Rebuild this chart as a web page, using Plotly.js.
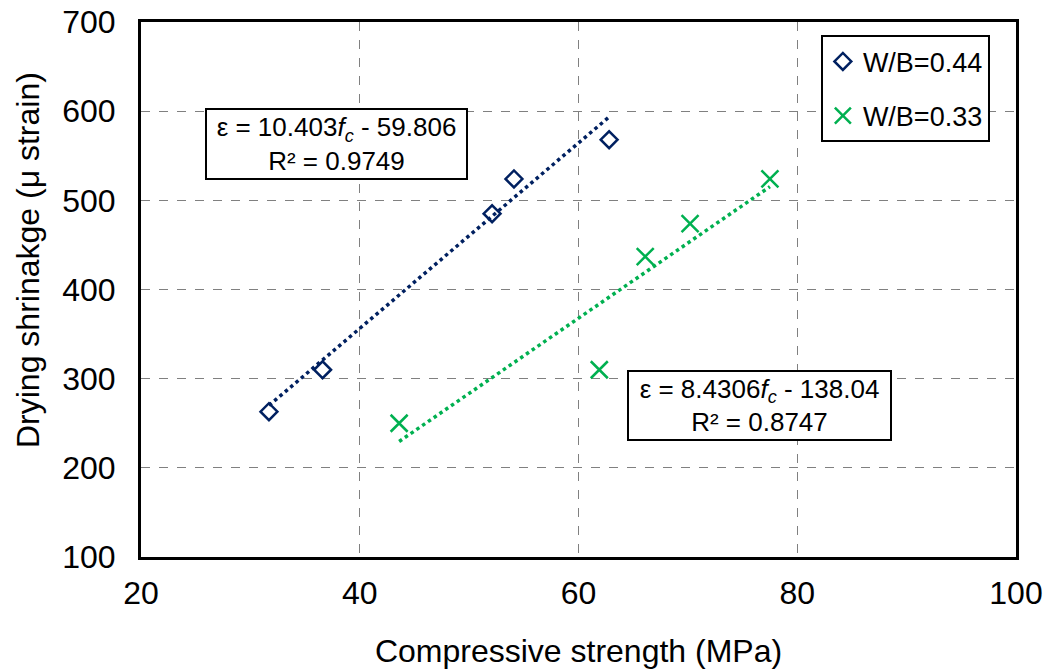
<!DOCTYPE html>
<html>
<head>
<meta charset="utf-8">
<script src="https://cdn.plot.ly/plotly-3.0.1.min.js"></script>
<style>html,body{margin:0;padding:0;background:#fff;}#chart{width:1049px;height:669px;}</style>
</head>
<body>
<div id="chart"></div>
<script>
var seriesNames = ["W/B=0.44", "W/B=0.33"];
var fc044 = [31.7, 36.6, 52.1, 54.1, 62.8];
var shr044 = [263, 310, 485, 524, 568];
var fc033 = [43.6, 61.9, 66.1, 70.2, 77.5];
var shr033 = [250, 310, 437, 474, 524];
var fit044 = [10.403, -59.806];
var fit033 = [8.4306, -138.04];
var eqText = ["ε = 10.403<i>f<sub>c</sub></i> - 59.806<br>R² = 0.9749",
              "ε = 8.4306<i>f<sub>c</sub></i> - 138.04<br>R² = 0.8747"];
var xTitle = "Compressive strength (MPa)";
var yTitle = "Drying shrinakge (μ strain)";
var xTicks = [20, 40, 60, 80, 100];
var yTicks = [100, 200, 300, 400, 500, 600, 700];

var navy = "#002060", green = "#00B050";
var fam = "Liberation Sans, Arial, sans-serif";

function fitLine(xs, c) {
  var lo = Math.min.apply(null, xs), hi = Math.max.apply(null, xs);
  return {x: [lo, hi], y: [c[0]*lo + c[1], c[0]*hi + c[1]]};
}
var f1 = fitLine(fc044, fit044), f2 = fitLine(fc033, fit033);

var data = [
  {x: f1.x, y: f1.y, mode: "lines", line: {color: navy, width: 3.5, dash: "dot"}, showlegend: false, hoverinfo: "skip"},
  {x: f2.x, y: f2.y, mode: "lines", line: {color: green, width: 3.5, dash: "dot"}, showlegend: false, hoverinfo: "skip"},
  {x: fc044, y: shr044, mode: "markers", name: seriesNames[0], legendgroup: "a",
   marker: {symbol: "diamond-open", size: 13, color: navy, line: {width: 2.5, color: navy}}},
  {x: fc033, y: shr033, mode: "markers", name: seriesNames[1], legendgroup: "b",
   marker: {symbol: "x-thin-open", size: 17, color: green, line: {width: 2.5, color: green}}}
];

var axisFont = {family: fam, size: 32, color: "#000"};
var layout = {
  width: 1049, height: 669,
  margin: {l: 141, r: 33, t: 22, b: 112},
  paper_bgcolor: "#fff", plot_bgcolor: "#fff",
  font: axisFont,
  xaxis: {range: [20, 100], tickvals: xTicks, ticks: "", showline: true, mirror: true, linecolor: "#000", linewidth: 3,
          showgrid: true, gridcolor: "#808080", griddash: "dash", gridwidth: 1, zeroline: false,
          tickfont: axisFont, ticklabelstandoff: 6,
          title: {text: xTitle, font: axisFont, standoff: 30}},
  yaxis: {range: [100, 700], tickvals: yTicks, ticks: "", showline: true, mirror: true, linecolor: "#000", linewidth: 3,
          showgrid: true, gridcolor: "#808080", griddash: "dash", gridwidth: 1, zeroline: false,
          tickfont: axisFont, ticklabelstandoff: 16},
  legend: {x: 0.777, y: 0.975, xanchor: "left", yanchor: "top", bgcolor: "#fff", bordercolor: "#000", borderwidth: 2,
           font: {family: fam, size: 27, color: "#000"}, itemwidth: 30, tracegroupgap: 16},
  annotations: [
    {x: 28, y: 260, xref: "paper", yref: "paper", xanchor: "center", yanchor: "middle", text: yTitle, textangle: -90,
     showarrow: false, font: axisFont,
     xsizemode: "pixel"},
    {x: 25.85, y: 603.6, xref: "x", yref: "y", xanchor: "left", yanchor: "top", text: eqText[0], showarrow: false,
     align: "center", bgcolor: "#fff", bordercolor: "#000", borderwidth: 2, borderpad: 0, width: 259, height: 68,
     font: {family: fam, size: 26, color: "#000"}},
    {x: 64.4, y: 309.9, xref: "x", yref: "y", xanchor: "left", yanchor: "top", text: eqText[1], showarrow: false,
     align: "center", bgcolor: "#fff", bordercolor: "#000", borderwidth: 2, borderpad: 0, width: 261, height: 67,
     font: {family: fam, size: 26, color: "#000"}}
  ]
};
// y-axis title position: convert pixel location (x=28, y=260) into paper coordinates
var plotW = layout.width - layout.margin.l - layout.margin.r;
var plotH = layout.height - layout.margin.t - layout.margin.b;
layout.annotations[0].x = (28 - layout.margin.l) / plotW;
layout.annotations[0].y = (layout.height - layout.margin.b - 260) / plotH;
delete layout.annotations[0].xsizemode;
Plotly.newPlot("chart", data, layout, {displayModeBar: false});
</script>
</body>
</html>
